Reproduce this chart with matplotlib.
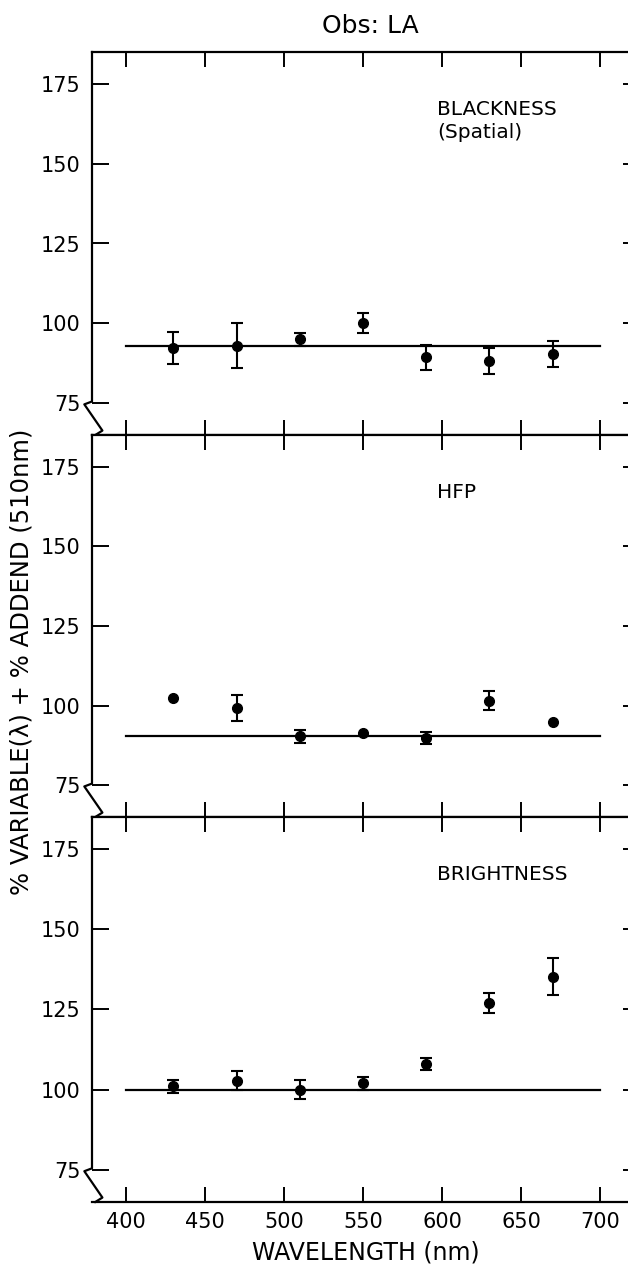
import matplotlib.pyplot as plt
import numpy as np

wavelengths = np.array([430, 470, 510, 550, 590, 630, 670])

blackness = np.array([92.2, 93.0, 95.0, 100.1, 89.3, 88.2, 90.3])
blackness_err = np.array([5.0, 7.0, 2.0, 3.0, 4.0, 4.0, 4.0])
blackness_fit = 93.0

hfp = np.array([102.4, 99.3, 90.4, 91.5, 89.8, 101.5, 94.7])
hfp_err = np.array([np.nan, 4.0, 2.0, np.nan, 2.0, 3.0, np.nan])
hfp_fit = 90.3

brightness = np.array([101.0, 102.8, 100.0, 102.0, 108.0, 127.0, 135.2])
brightness_err = np.array([2.0, 3.0, 3.0, 2.0, 2.0, 3.0, 5.8])
brightness_fit = 100.0

panel_names = ["BLACKNESS\n(Spatial)", "HFP", "BRIGHTNESS"]
x_ticks = [400, 450, 500, 550, 600, 650, 700]
y_ticks = [75, 100, 125, 150, 175]
fit_range = [400, 700]

W, H = 628, 1264
fig = plt.figure(figsize=(W / 100, H / 100), dpi=100)
plt.rcParams['font.family'] = 'DejaVu Sans'

# panel edges in pixels (top, bottom)
edges = [(52, 435), (435, 817), (817, 1202)]
left_px, right_px = 92, 640

series = [(blackness, blackness_err, blackness_fit),
          (hfp, hfp_err, hfp_fit),
          (brightness, brightness_err, brightness_fit)]

for i, (top, bot) in enumerate(edges):
    ax = fig.add_axes([left_px / W, 1 - bot / H, (right_px - left_px) / W, (bot - top) / H])
    vals, err, fit = series[i]

    ax.plot(fit_range, [fit, fit], color='black', lw=1.6)
    m = np.isfinite(err)
    ax.errorbar(wavelengths[m], vals[m], yerr=err[m], fmt='none', ecolor='black',
                elinewidth=1.5, capsize=4.5, capthick=1.5)
    ax.plot(wavelengths, vals, 'o', color='black', ms=7)

    ax.set_xlim(378.5, 725.3)
    ax.set_ylim(65, 185)
    ax.set_xticks(x_ticks)
    ax.set_yticks(y_ticks)
    ax.tick_params(axis='x', direction='in', top=True, bottom=True, length=11, width=1.4,
                   labelsize=15, pad=7, labelbottom=(i == 2))
    ax.tick_params(axis='y', direction='in', left=True, right=True, length=12, width=1.4,
                   labelsize=15, pad=8)
    for s in ['top', 'bottom', 'right']:
        ax.spines[s].set_linewidth(1.6)
    ax.spines['left'].set_visible(False)

    # left axis with break mark near the bottom
    ax.plot([0, 0, -0.014, 0.019, 0.006, 0.006],
            [1, 0.0875, 0.08, 0.0115, 0.0, 0.0],
            transform=ax.transAxes, color='black', lw=1.6, clip_on=False)

    ax.text(597, 170, panel_names[i], fontsize=14.5, va='top', ha='left', linespacing=1.3)

    if i == 2:
        ax.set_xlabel("WAVELENGTH (nm)", fontsize=17, labelpad=6)

fig.text(370 / W, 1 - 26 / H, "Obs: LA", fontsize=18, ha='center', va='center')
fig.text(22 / W, 1 - 662 / H, "% VARIABLE(λ) + % ADDEND (510nm)", fontsize=17.5,
         rotation=90, ha='center', va='center')

fig.savefig("out.png", dpi=100)
